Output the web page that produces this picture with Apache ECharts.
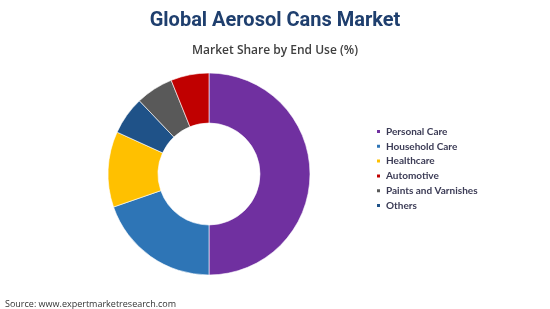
<!DOCTYPE html>
<html lang="en">
<head>
    <meta charset="UTF-8">
    <title>Global Aerosol Cans Market</title>
    <script src="https://cdn.jsdelivr.net/npm/echarts@6/dist/echarts.min.js"></script>
    <style>
        html, body { margin: 0; padding: 0; background: #fff; }
    </style>
</head>
<body>
<div id="main" style="width: 550px;height:309px"></div>
<script>
    // slice order is clockwise from the top, legend keeps the report's order
    const categories = ['Personal Care', 'Household Care', 'Healthcare', 'Others', 'Paints and Varnishes', 'Automotive']
    const shares = [50.0, 19.7, 12.1, 6.1, 6.0, 6.1]
    const colors = ['#7030A0', '#2E75B6', '#FFC000', '#1F5288', '#595959', '#C00000']
    const legendOrder = ['Personal Care', 'Household Care', 'Healthcare', 'Automotive', 'Paints and Varnishes', 'Others']

    const myChart = echarts.init(document.getElementById('main'))
    const data = categories.map((name, i) => ({
        name: name,
        value: shares[i],
        itemStyle: {color: colors[i]}
    }))

    const option = {
        animation: false,
        title: [
            {
                text: 'Global Aerosol Cans Market',
                left: 'center',
                top: 6,
                textStyle: {fontFamily: 'Roboto', fontWeight: 'bold', fontSize: 20, color: '#1F3F6E'}
            },
            {
                text: 'Market Share by End Use (%)',
                left: 'center',
                top: 40,
                textStyle: {fontFamily: 'Open Sans', fontWeight: 600, fontSize: 12, color: '#404040'}
            },
            {
                text: 'Source: www.expertmarketresearch.com',
                left: 0,
                top: 295,
                textStyle: {fontFamily: 'Open Sans', fontWeight: 'normal', fontSize: 9, color: '#333'}
            }
        ],
        legend: {
            data: legendOrder,
            orient: 'vertical',
            left: 375,
            top: 125.5,
            padding: 0,
            icon: 'rect',
            itemWidth: 5,
            itemHeight: 5,
            itemGap: 2.8,
            textStyle: {fontFamily: 'Lato', fontWeight: 'bold', fontSize: 10, lineHeight: 12, color: '#3B3B55'}
        },
        series: [
            {
                type: 'pie',
                center: [209, 174],
                radius: [51, 101],
                startAngle: 90,
                clockwise: true,
                label: {show: false},
                labelLine: {show: false},
                itemStyle: {borderColor: '#ffffff', borderWidth: 0.6},
                emphasis: {disabled: true},
                data: data
            }
        ]
    };
    myChart.setOption(option);
</script>
</body>
</html>
